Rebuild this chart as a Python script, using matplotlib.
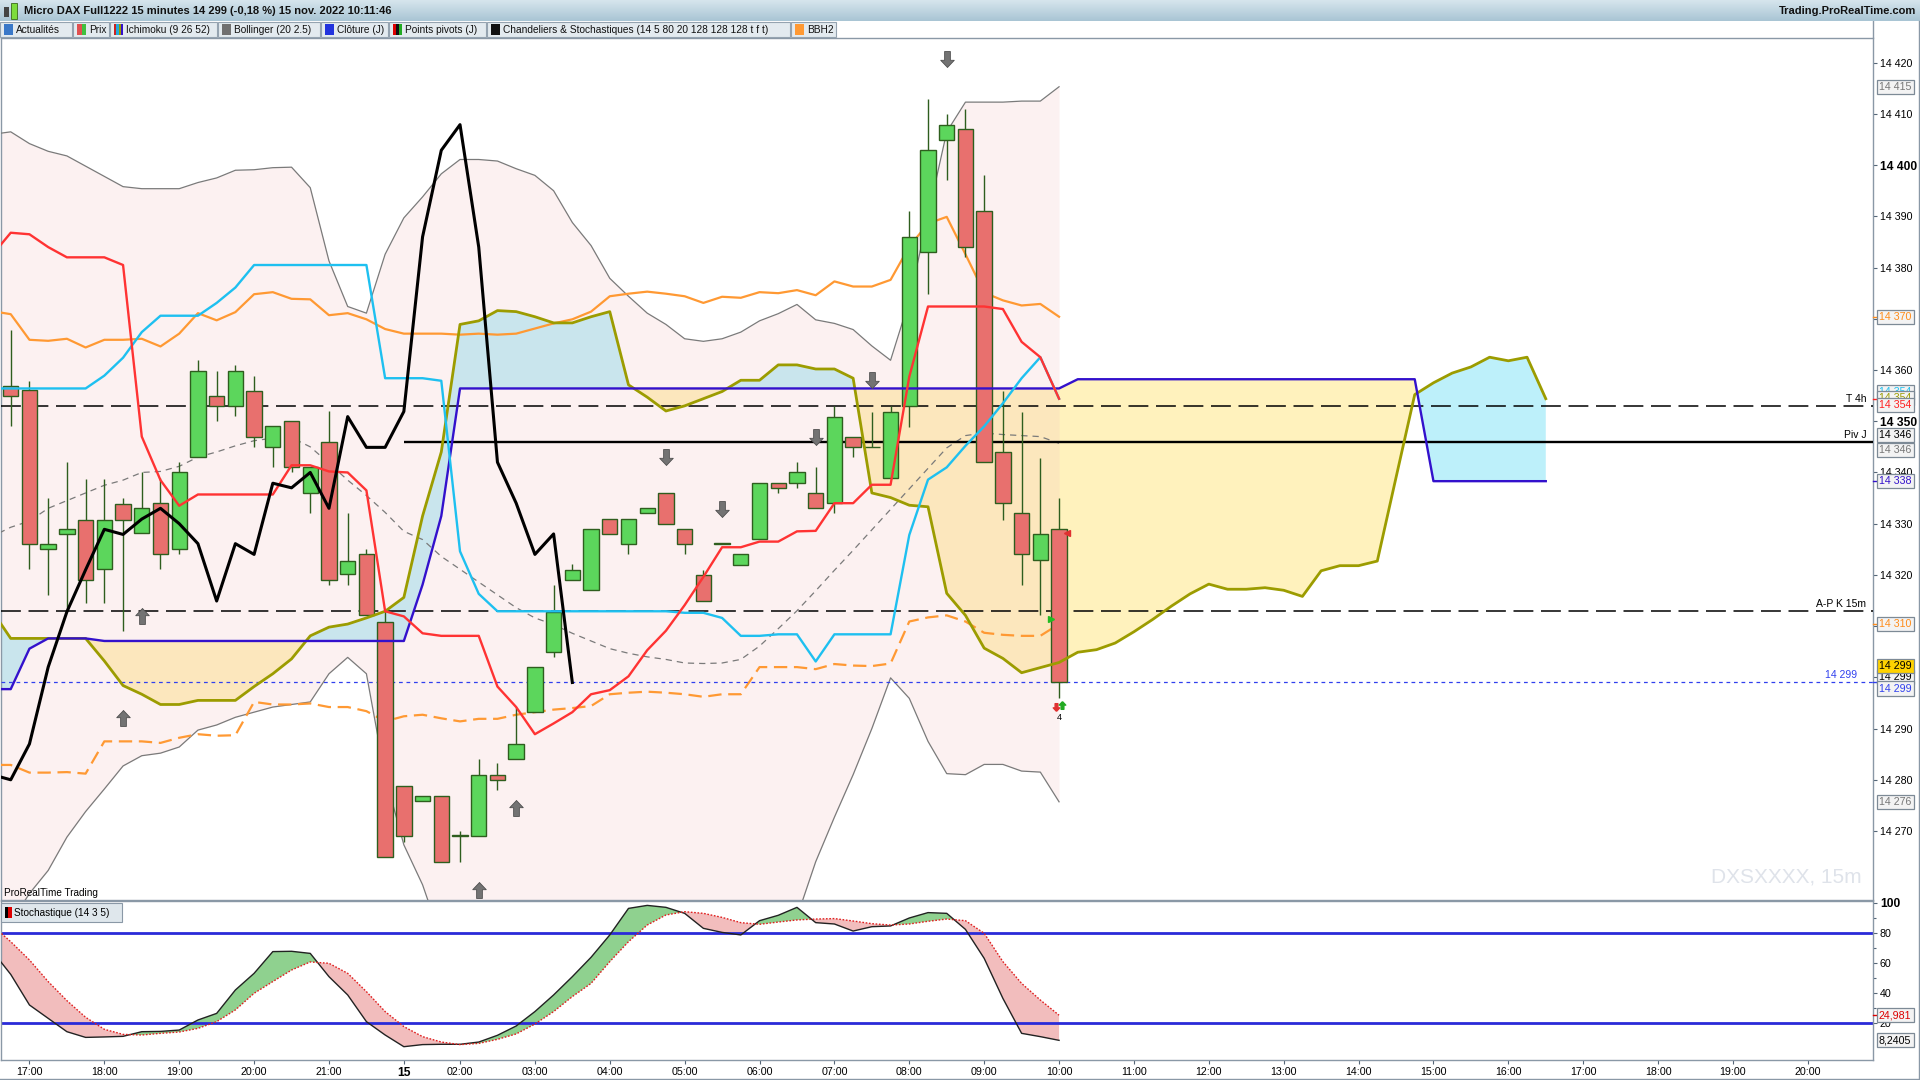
import numpy as np
import matplotlib
matplotlib.use("Agg")
import matplotlib.pyplot as plt
from matplotlib.patches import Rectangle
import matplotlib.transforms as mtransforms
from matplotlib.colors import LinearSegmentedColormap

plt.rcParams['font.family'] = ['Liberation Sans', 'DejaVu Sans']

W, H = 1920, 1080

# ---------------- data ----------------
# bar index: 0 = 14 nov 17:00, 20 = first bar of 15 nov, 55 = 15 nov 10:00
candle_idx = list(range(-1, 56))
opens = [14356.9, 14356.1, 14325.1, 14327.9, 14330.8, 14321.1, 14333.9, 14328.1, 14334.0, 14325.1,
         14343.0, 14354.9, 14352.9, 14356.0, 14345.0, 14350.0, 14336.0, 14346.0, 14320.1, 14324.1,
         14310.9, 14278.7, 14275.9, 14276.9, 14269.0, 14269.0, 14281.0, 14284.0, 14293.2, 14305.0,
         14319.0, 14317.1, 14330.9, 14326.1, 14332.0, 14335.9, 14328.9, 14320.0, 14326.1, 14322.0,
         14327.1, 14337.9, 14338.0, 14336.0, 14334.0, 14346.9, 14344.9, 14339.0, 14352.9, 14383.0,
         14404.9, 14407.0, 14391.0, 14343.9, 14332.0, 14323.0, 14329.0]
highs = [14367.9, 14357.9, 14335.0, 14342.0, 14338.8, 14338.8, 14335.0, 14340.0, 14339.0, 14342.0,
         14361.9, 14359.9, 14360.9, 14358.9, 14349.0, 14350.0, 14341.0, 14352.0, 14332.0, 14325.1,
         14313.0, 14278.7, 14276.9, 14276.9, 14270.0, 14284.0, 14283.2, 14294.2, 14302.0, 14318.1,
         14322.1, 14328.9, 14330.9, 14330.9, 14333.0, 14335.9, 14328.9, 14321.0, 14326.1, 14324.0,
         14337.9, 14337.9, 14342.0, 14341.0, 14352.9, 14346.9, 14351.9, 14352.9, 14391.0, 14413.0,
         14410.0, 14411.0, 14398.0, 14355.9, 14351.9, 14342.9, 14335.0]
lows = [14349.0, 14321.1, 14316.1, 14313.1, 14314.6, 14314.6, 14309.1, 14328.1, 14321.1, 14324.1,
        14343.0, 14350.0, 14351.0, 14345.0, 14341.0, 14340.0, 14332.0, 14318.1, 14318.1, 14312.1,
        14265.0, 14267.8, 14275.9, 14264.0, 14264.0, 14269.0, 14278.0, 14284.0, 14293.2, 14304.0,
        14319.0, 14317.1, 14327.9, 14324.1, 14332.0, 14330.0, 14324.1, 14314.9, 14326.1, 14322.0,
        14327.1, 14336.0, 14337.0, 14333.0, 14332.0, 14343.0, 14344.9, 14339.0, 14348.9, 14374.9,
        14397.0, 14382.0, 14342.0, 14330.8, 14318.0, 14312.1, 14296.0]
closes = [14354.9, 14326.1, 14326.1, 14328.9, 14319.1, 14330.8, 14330.8, 14333.0, 14324.1, 14340.0,
          14359.9, 14352.9, 14359.9, 14347.0, 14349.0, 14341.0, 14341.0, 14319.1, 14322.8, 14312.1,
          14265.0, 14269.0, 14276.9, 14264.0, 14269.0, 14281.0, 14280.0, 14287.0, 14302.0, 14312.8,
          14321.0, 14328.9, 14327.9, 14330.9, 14333.0, 14330.0, 14326.1, 14314.9, 14326.1, 14324.0,
          14337.9, 14337.0, 14340.0, 14333.0, 14350.9, 14344.9, 14344.9, 14351.9, 14386.0, 14402.9,
          14407.9, 14384.0, 14342.0, 14334.0, 14324.0, 14328.0, 14299.0]

ind_idx = list(range(-2, 56))
tenkan = [14382.4, 14386.8, 14386.5, 14384.0, 14382.0, 14382.0, 14382.0, 14380.5, 14347.0, 14338.5,
          14333.5, 14335.7, 14335.7, 14335.7, 14335.7, 14335.7, 14341.4, 14341.4, 14340.2, 14340.0,
          14336.5, 14312.9, 14311.9, 14308.6, 14308.1, 14308.1, 14308.1, 14298.2, 14294.2, 14288.9,
          14291.0, 14293.2, 14296.7, 14297.5, 14300.2, 14305.3, 14309.1, 14314.1, 14319.6, 14325.4,
          14325.4, 14326.5, 14326.5, 14328.5, 14328.6, 14334.0, 14334.0, 14337.6, 14337.6, 14358.7,
          14372.4, 14372.4, 14372.4, 14372.4, 14371.9, 14365.5, 14362.5, 14354.4]
kijun = [14356.4, 14356.4, 14356.4, 14356.4, 14356.4, 14356.4, 14358.9, 14362.4, 14367.4, 14370.6,
         14370.6, 14370.6, 14373.1, 14376.1, 14380.5, 14380.5, 14380.5, 14380.5, 14380.5, 14380.5,
         14380.5, 14358.4, 14358.4, 14358.4, 14357.9, 14324.6, 14316.3, 14312.9, 14312.9, 14312.9,
         14312.9, 14312.9, 14312.9, 14312.9, 14312.9, 14312.9, 14312.9, 14312.6, 14312.6, 14311.6,
         14308.1, 14308.1, 14308.4, 14308.4, 14303.1, 14308.4, 14308.4, 14308.4, 14308.4, 14327.8,
         14338.6, 14341.0, 14345.2, 14349.0, 14353.5, 14358.4, 14362.5, 14354.4]
boll_up = [14406.0, 14406.5, 14404.2, 14402.7, 14401.8, 14399.8, 14397.8, 14395.8, 14395.4, 14395.4,
           14395.4, 14396.6, 14397.5, 14399.0, 14399.1, 14399.5, 14399.6, 14395.6, 14381.3, 14372.4,
           14371.1, 14382.6, 14389.7, 14393.8, 14398.3, 14401.1, 14401.1, 14400.8, 14399.3, 14398.0,
           14395.0, 14388.8, 14384.3, 14377.9, 14374.4, 14371.1, 14368.9, 14366.1, 14365.6, 14366.1,
           14367.4, 14369.6, 14371.0, 14372.8, 14369.8, 14369.1, 14367.9, 14364.7, 14361.9, 14373.6,
           14390.1, 14406.5, 14412.3, 14412.3, 14412.3, 14412.5, 14412.5, 14415.3]
boll_mid = [14327.5, 14329.3, 14330.5, 14333.0, 14334.5, 14336.0, 14337.5, 14338.5, 14340.0, 14340.2,
            14341.2, 14343.0, 14344.0, 14345.2, 14346.2, 14346.7, 14346.8, 14345.0, 14341.8, 14338.5,
            14335.5, 14332.2, 14328.5, 14326.9, 14323.6, 14321.1, 14318.6, 14316.1, 14313.6, 14311.6,
            14310.3, 14308.6, 14307.1, 14305.6, 14304.7, 14304.0, 14303.5, 14302.8, 14302.7, 14302.8,
            14303.5, 14306.1, 14309.5, 14313.0, 14316.9, 14320.9, 14324.8, 14328.8, 14332.8, 14336.8,
            14340.8, 14344.8, 14347.2, 14347.7, 14347.4, 14347.2, 14347.0, 14345.7]
boll_low = [14249.0, 14252.1, 14257.8, 14262.3, 14268.8, 14273.8, 14278.2, 14282.7, 14284.7, 14285.2,
            14286.4, 14289.7, 14290.7, 14292.2, 14293.2, 14294.2, 14294.7, 14295.2, 14300.7, 14303.9,
            14300.7, 14280.7, 14267.3, 14259.5, 14248.9, 14241.1, 14236.1, 14231.4, 14227.9, 14225.2,
            14225.6, 14228.4, 14229.9, 14233.3, 14235.0, 14236.9, 14238.1, 14239.5, 14239.8, 14239.5,
            14239.6, 14242.6, 14248.0, 14253.2, 14264.0, 14272.7, 14281.0, 14290.0, 14299.9, 14295.9,
            14287.5, 14281.2, 14281.0, 14283.0, 14283.0, 14281.7, 14281.5, 14275.7]
env_up = [14371.5, 14370.9, 14365.9, 14365.7, 14366.1, 14364.4, 14365.9, 14365.9, 14366.1, 14364.6,
          14367.1, 14371.1, 14369.7, 14371.3, 14374.8, 14375.2, 14373.9, 14373.8, 14370.7, 14371.1,
          14369.9, 14368.0, 14367.1, 14367.1, 14367.1, 14366.9, 14367.1, 14366.9, 14367.1, 14368.1,
          14369.1, 14369.9, 14371.4, 14374.4, 14374.9, 14375.3, 14374.9, 14374.4, 14373.1, 14374.3,
          14374.1, 14375.2, 14375.0, 14375.6, 14374.6, 14377.3, 14376.3, 14376.3, 14377.6, 14384.1,
          14388.6, 14389.9, 14382.6, 14375.1, 14373.6, 14372.6, 14372.9, 14370.4]
env_low = [14282.9, 14282.9, 14281.4, 14281.4, 14281.5, 14281.2, 14287.5, 14287.5, 14287.5, 14287.2,
           14288.2, 14288.9, 14288.6, 14288.7, 14295.2, 14294.7, 14294.7, 14294.9, 14294.2, 14294.2,
           14293.4, 14291.4, 14292.4, 14292.7, 14292.0, 14291.4, 14291.9, 14291.9, 14292.7, 14293.2,
           14293.7, 14294.0, 14294.4, 14296.7, 14297.0, 14297.2, 14297.0, 14296.7, 14296.2, 14296.7,
           14296.7, 14302.0, 14302.0, 14302.0, 14301.6, 14302.6, 14302.3, 14302.2, 14302.7, 14310.9,
           14311.7, 14312.1, 14310.9, 14308.7, 14308.3, 14308.1, 14308.1, 14310.4]

cloud_idx = list(range(-2, 82))
senkou_a = [14313.0, 14307.6, 14307.6, 14307.6, 14307.6, 14307.6, 14303.2, 14298.4, 14296.7, 14294.7,
            14294.7, 14295.5, 14295.5, 14295.5, 14298.2, 14300.7, 14303.6, 14308.1, 14309.8, 14310.4,
            14311.6, 14312.9, 14315.6, 14331.5, 14344.0, 14368.9, 14369.6, 14371.6, 14371.4, 14370.4,
            14369.2, 14369.2, 14370.4, 14371.4, 14357.1, 14354.7, 14352.0, 14353.0, 14354.4, 14355.8,
            14358.0, 14358.0, 14361.0, 14361.0, 14360.2, 14360.2, 14358.4, 14336.0, 14335.1, 14333.6,
            14333.3, 14316.4, 14312.1, 14305.7, 14303.7, 14300.9, 14301.9, 14302.9, 14304.9, 14305.4,
            14306.7, 14308.9, 14311.3, 14313.9, 14316.3, 14318.2, 14317.2, 14317.2, 14317.5, 14317.0,
            14315.8, 14320.8, 14321.8, 14321.8, 14322.7, 14339.0, 14355.2, 14357.5, 14359.4, 14360.6,
            14362.5, 14361.8, 14362.5, 14354.4]
senkou_b = ([14297.7, 14297.7, 14305.6, 14307.6, 14307.6, 14307.6] + [14307.1] * 17 +
            [14318.1, 14331.5] + [14356.4] * 33 + [14358.2] * 19 + [14338.3] * 7)
chikou_shift = 26

stoch_k = [68.0, 52.2, 31.8, 22.9, 14.0, 10.2, 10.5, 10.9, 14.0, 14.2, 15.1, 21.8, 26.2, 41.8, 52.9,
           67.4, 67.6, 66.2, 50.7, 38.5, 20.7, 11.8, 4.0, 5.4, 5.6, 5.6, 7.1, 11.6, 17.8, 27.4, 38.5,
           50.7, 63.6, 78.5, 96.2, 98.2, 96.9, 92.9, 82.9, 80.2, 78.5, 88.0, 91.6, 96.9, 86.7, 85.8,
           81.1, 84.0, 84.5, 89.8, 93.4, 92.9, 82.2, 62.9, 36.2, 12.9, 10.7, 8.2405]
stoch_d = [85.0, 74.0, 61.8, 47.4, 34.7, 23.6, 15.6, 12.2, 11.8, 12.9, 13.8, 16.2, 20.7, 28.5, 39.6,
           47.4, 55.1, 60.5, 59.6, 52.9, 40.7, 27.4, 17.4, 10.7, 7.1, 5.4, 6.2, 8.9, 12.5, 19.1, 27.4,
           37.4, 46.2, 60.7, 74.0, 85.1, 91.8, 94.0, 92.9, 90.2, 86.7, 85.6, 87.1, 88.5, 89.1, 89.4,
           87.8, 86.0, 85.1, 85.8, 87.6, 89.1, 88.0, 79.6, 60.7, 46.2, 35.1, 24.981]

t4h_level = 14353.0
pivj_level = 14346.0
apk_level = 14313.0
last_price = 14299.0

sig_up_idx = [5, 6, 24, 26]
sig_up_price = [14292.1, 14312.0, 14258.4, 14274.4]
sig_dn_idx = [34, 37, 42, 45, 49]
sig_dn_price = [14343.1, 14332.8, 14346.9, 14358.1, 14420.8]

time_idx = [0, 4, 8, 12, 16, 20, 23, 27, 31, 35, 39, 43, 47, 51, 55, 59, 63, 67, 71, 75, 79, 83, 87, 91, 95]
time_labels = ['17:00', '18:00', '19:00', '20:00', '21:00', '15', '02:00', '03:00', '04:00', '05:00',
               '06:00', '07:00', '08:00', '09:00', '10:00', '11:00', '12:00', '13:00', '14:00', '15:00',
               '16:00', '17:00', '18:00', '19:00', '20:00']
price_ticks = list(range(14270, 14430, 10))
stoch_ticks = [20, 40, 60, 80, 100]

title = "Micro DAX Full1222 15 minutes 14 299 (-0,18 %) 15 nov. 2022 10:11:46"
legend_items = ["Actualités", "Prix", "Ichimoku (9 26 52)", "Bollinger (20 2.5)", "Clôture (J)",
                "Points pivots (J)", "Chandeliers & Stochastiques (14 5 80 20 128 128 128 t f t)", "BBH2"]

# ---------------- layout helpers ----------------
def fx(px):
    return px / W

def fy(py):
    return 1 - py / H

def fmt_price(v):
    v = int(round(v))
    return f"{v // 1000} {v % 1000:03d}"

EDGE = '#8a98a6'
XMIN, XMAX = -1.52, 98.48

fig = plt.figure(figsize=(19.2, 10.8), dpi=100)
fig.patch.set_facecolor('white')

ax = fig.add_axes([fx(1), fy(900), fx(1872), 862 / H])
sx = fig.add_axes([fx(1), fy(1060), fx(1872), 159 / H])

for a in (ax, sx):
    a.set_xlim(XMIN, XMAX)
    a.set_facecolor('white')
    for s in a.spines.values():
        s.set_color(EDGE)
        s.set_linewidth(1.0)
ax.set_ylim(14256.53, 14424.82)
sx.set_ylim(-4.87, 101.13)

# ---------------- main price panel ----------------
xi = np.array(ind_idx, dtype=float)
xc = np.array(cloud_idx, dtype=float)
A = np.array(senkou_a)
B = np.array(senkou_b)
ax.fill_between(xc, A, B, where=A >= B, interpolate=True, color='#bdf0fa', lw=0, zorder=1)
ax.fill_between(xc, A, B, where=A < B, interpolate=True, color='#fff2bd', lw=0, zorder=1)

ax.fill_between(xi, boll_up, boll_low, color='#f5c0c0', alpha=0.22, lw=0, zorder=2)
ax.plot(xi, boll_up, color='#7a7a7a', lw=0.9, zorder=3)
ax.plot(xi, boll_low, color='#7a7a7a', lw=0.9, zorder=3)
ax.plot(xi, boll_mid, color='#7a7a7a', lw=0.9, dashes=(5, 4), zorder=3)
ax.plot(xi, env_up, color='#ff9933', lw=1.6, zorder=3)
ax.plot(xi, env_low, color='#ff9933', lw=1.6, dashes=(6, 3), zorder=3)

ax.axhline(t4h_level, color='black', lw=1.1, dashes=(13, 5), zorder=4)
ax.axhline(apk_level, color='black', lw=1.1, dashes=(13, 5), zorder=4)
ax.axhline(last_price, color='#3040ee', lw=0.9, dashes=(3, 3), zorder=4)
ax.hlines(pivj_level, 20, XMAX, color='black', lw=1.7, zorder=4)

# candles
cx = np.array(candle_idx, dtype=float)
o = np.array(opens)
c = np.array(closes)
ax.vlines(cx, lows, highs, color='#2e5e1e', lw=1.0, zorder=5)
body = c - o
body = np.where(np.abs(body) < 0.15, 0.15, body)
cols = ['#5cd65c' if cc >= oo else '#e8706e' for oo, cc in zip(o, c)]
ax.bar(cx, body, bottom=o, width=0.82, color=cols, edgecolor='#2e5e1e', linewidth=1.0, zorder=5)

# ichimoku lines
ax.plot(xc, A, color='#9c9c00', lw=2.0, zorder=6)
ax.plot(xc, B, color='#3311cc', lw=1.7, zorder=6)
ax.plot(xi, kijun, color='#1ec0f0', lw=1.7, zorder=6)
ax.plot(xi, tenkan, color='#ff3333', lw=1.7, zorder=6)
ch_x = [i - chikou_shift for i in candle_idx if i - chikou_shift >= -2]
ch_y = [cl for i, cl in zip(candle_idx, closes) if i - chikou_shift >= -2]
ax.plot(ch_x, ch_y, color='black', lw=2.2, zorder=7)

# signal arrows
up_arrow = [(0, 1), (0.85, 0.1), (0.36, 0.1), (0.36, -1), (-0.36, -1), (-0.36, 0.1), (-0.85, 0.1), (0, 1)]
dn_arrow = [(x, -y) for x, y in up_arrow]
ax.plot(sig_up_idx, sig_up_price, ls='none', marker=up_arrow, ms=11.5, mfc='#737373', mec='#505050',
        mew=0.6, zorder=8)
ax.plot(sig_dn_idx, sig_dn_price, ls='none', marker=dn_arrow, ms=11.5, mfc='#737373', mec='#505050',
        mew=0.6, zorder=8)

last_i = candle_idx[-1]
ax.plot([last_i - 0.18], [14294.3], ls='none', marker=dn_arrow, ms=5.5, mfc='#e03030', mec='#e03030', zorder=8)
ax.plot([last_i + 0.18], [14294.6], ls='none', marker=up_arrow, ms=5.5, mfc='#22aa22', mec='#22aa22', zorder=8)
ax.text(last_i, 14292.2, '4', fontsize=6.5, ha='center', va='center', zorder=8)
ax.plot([last_i + 0.45], [opens[-1] - 0.8], ls='none', marker='<', ms=4, color='#e03030', zorder=8)
ax.plot([last_i - 0.45], [14311.3], ls='none', marker='>', ms=4, color='#22bb22', zorder=8)

ax.set_xticks([])
ax.yaxis.tick_right()
ax.set_yticks(price_ticks, [fmt_price(v) for v in price_ticks])
ax.tick_params(axis='y', direction='out', length=3, width=0.8, color='#556677', pad=2,
               labelsize=7.7, labelcolor='black')
for lbl in ax.get_yticklabels():
    if lbl.get_text() in ('14 400', '14 350'):
        lbl.set_fontweight('bold')
        lbl.set_fontsize(8.7)

bt = mtransforms.blended_transform_factory(ax.transAxes, ax.transData)

# line captions on the right
ax.text(0.9965, t4h_level + 0.4, 'T 4h', transform=bt, ha='right', va='bottom', fontsize=7.5, zorder=9)
ax.text(0.9965, pivj_level + 0.4, 'Piv J', transform=bt, ha='right', va='bottom', fontsize=7.5, zorder=9)
ax.text(0.9965, apk_level + 0.4, 'A-P K 15m', transform=bt, ha='right', va='bottom', fontsize=7.5, zorder=9)
ax.text(0.9915, last_price + 0.4, fmt_price(last_price), transform=bt, ha='right', va='bottom',
        fontsize=7.5, color='#3040ee', zorder=9)

# value boxes on the price scale: (value, offset for stacking, text colour, face colour)
boxes = [
    (boll_up[-1], 0.0, '#777777', '#f3f3f3'),
    (env_up[-1], 0.0, '#ff8c1a', '#f3f3f3'),
    (kijun[-1], 1.3, '#1ec0f0', '#f3f3f3'),
    (senkou_a[-1], 0.1, '#9c9c00', '#f3f3f3'),
    (tenkan[-1], -1.3, '#ff2020', '#f3f3f3'),
    (pivj_level, 1.3, 'black', '#f3f3f3'),
    (boll_mid[-1], -1.3, '#777777', '#f3f3f3'),
    (senkou_b[-1], 0.0, '#3311cc', '#f3f3f3'),
    (env_low[-1], 0.0, '#ff8c1a', '#f3f3f3'),
    (ch_y[-1], 1.0, 'black', '#f3f3f3'),
    (closes[-1], 3.2, 'black', '#ffd200'),
    (last_price, -1.2, '#3040ee', '#f3f3f3'),
    (boll_low[-1], 0.0, '#777777', '#f3f3f3'),
]
tick_cols = {'#ff8c1a', '#ff2020', '#3311cc', '#3040ee'}
for k, (val, off, tc, fc) in enumerate(boxes):
    ax.text(1.0032, val + off, fmt_price(val), transform=bt, ha='left', va='center', fontsize=7.7,
            color=tc, zorder=20 + k, clip_on=False,
            bbox=dict(boxstyle='square,pad=0.2', fc=fc, ec='#7d8a96', lw=0.9))
    if tc in tick_cols:
        ax.plot([1.0, 1.0028], [val, val], transform=bt, color=tc, lw=1.0, clip_on=False, zorder=19)

ax.text(0.994, 14261.0, 'DXSXXXX, 15m', transform=bt, ha='right', va='center', fontsize=15,
        color='#dfe3ea', zorder=9)
ax.text(0.0015, 0.002, 'ProRealTime Trading', transform=ax.transAxes, ha='left', va='bottom',
        fontsize=7.2, zorder=9)

# ---------------- stochastic panel ----------------
K = np.array(stoch_k)
D = np.array(stoch_d)
sx.fill_between(xi, K, D, where=K >= D, interpolate=True, color='#8fd18f', lw=0, zorder=1)
sx.fill_between(xi, K, D, where=K < D, interpolate=True, color='#f2bdbd', lw=0, zorder=1)
sx.axhline(80, color='#2a2ad8', lw=2.0, zorder=2)
sx.axhline(20, color='#2a2ad8', lw=2.0, zorder=2)
sx.plot(xi, K, color='#222222', lw=1.0, zorder=3)
sx.plot(xi, D, color='#e02020', lw=1.0, dashes=(1.2, 1.2), zorder=3)

sx.yaxis.tick_right()
sx.set_yticks(stoch_ticks, [str(v) for v in stoch_ticks])
sx.set_yticks([30, 50, 70, 90], minor=True)
sx.tick_params(axis='y', which='major', direction='out', length=3, width=0.8, color='#556677',
               pad=2, labelsize=7.7)
sx.tick_params(axis='y', which='minor', direction='out', length=2, width=0.8, color='#556677')
for lbl in sx.get_yticklabels():
    if lbl.get_text() == '100':
        lbl.set_fontweight('bold')
        lbl.set_fontsize(8.7)
sbt = mtransforms.blended_transform_factory(sx.transAxes, sx.transData)
sx.text(1.0032, D[-1], f"{D[-1]:.3f}".replace('.', ','), transform=sbt, ha='left', va='center',
        fontsize=7.7, color='#dd0000', clip_on=False, zorder=20,
        bbox=dict(boxstyle='square,pad=0.2', fc='#f3f3f3', ec='#7d8a96', lw=0.9))
sx.plot([1.0, 1.0028], [D[-1], D[-1]], transform=sbt, color='#dd0000', lw=1.0, clip_on=False, zorder=19)
sx.text(1.0032, K[-1], f"{K[-1]:.4f}".replace('.', ','), transform=sbt, ha='left', va='center',
        fontsize=7.7, color='black', clip_on=False, zorder=21,
        bbox=dict(boxstyle='square,pad=0.2', fc='#f3f3f3', ec='#7d8a96', lw=0.9))

sx.set_xticks(time_idx, time_labels)
sx.tick_params(axis='x', direction='out', length=3, width=0.8, color='#556677', pad=2, labelsize=7.7)
for lbl in sx.get_xticklabels():
    if lbl.get_text() == '15':
        lbl.set_fontweight('bold')
        lbl.set_fontsize(8.7)

# stochastic legend
sx.add_patch(Rectangle((0.0, 0.87), 0.0645, 0.115, transform=sx.transAxes, fc='#dfe7ec', ec='#8a98a6',
                       lw=0.8, zorder=9, clip_on=False))
sx.add_patch(Rectangle((0.0022, 0.895), 0.0018, 0.07, transform=sx.transAxes, fc='black', lw=0, zorder=10))
sx.add_patch(Rectangle((0.0040, 0.895), 0.0018, 0.07, transform=sx.transAxes, fc='#dd0000', lw=0, zorder=10))
sx.text(0.0072, 0.927, 'Stochastique (14 3 5)', transform=sx.transAxes, ha='left', va='center',
        fontsize=7.2, zorder=10)

# ---------------- header ----------------
hdr = fig.add_axes([0, fy(21), 1, 21 / H])
grad = np.linspace(0, 1, 32).reshape(-1, 1)
hdr.imshow(grad, aspect='auto', extent=[0, 1, 0, 1],
           cmap=LinearSegmentedColormap.from_list('hdr', ['#a9c5d4', '#d6e5ed']), origin='lower')
hdr.set_xlim(0, 1)
hdr.set_ylim(0, 1)
hdr.axis('off')
hdr.add_patch(Rectangle((fx(4), 0.2), fx(5), 0.45, fc='#444444', lw=0))
hdr.add_patch(Rectangle((fx(11), 0.1), fx(6), 0.75, fc='#7ddc3c', ec='#3a6a1a', lw=0.6))
hdr.text(fx(24), 0.5, title, fontsize=8.0, fontweight='bold', va='center', ha='left', color='#111111')
hdr.text(fx(1916), 0.5, 'Trading.ProRealTime.com', fontsize=8.0, fontweight='bold', va='center',
         ha='right', color='#111111')

leg = fig.add_axes([0, fy(38), 1, 17 / H])
leg.set_xlim(0, W)
leg.set_ylim(0, 1)
leg.axis('off')
item_spans = [(0, 72), (73, 109), (110, 217), (218, 320), (321, 388), (389, 486), (487, 790), (791, 836)]
icon_cols = [['#3a78c8'], ['#e05050', '#40c040'], ['#cc2222', '#22aadd', '#999900', '#3311cc'],
             ['#707070'], ['#2233dd'], ['#dd0000', '#111111', '#22aa22'], ['#111111'], ['#ff9933']]
for (x0, x1), name, ic in zip(item_spans, legend_items, icon_cols):
    leg.add_patch(Rectangle((x0, 0.04), x1 - x0, 0.92, fc='#e3eaef', ec='#95a3b0', lw=0.8))
    n = len(ic)
    wdt = 9.0 / n
    for k, colr in enumerate(ic):
        leg.add_patch(Rectangle((x0 + 4 + k * wdt, 0.2), wdt, 0.6, fc=colr, lw=0))
    leg.text(x0 + 16, 0.48, name, fontsize=7.3, va='center', ha='left', color='#111111')
leg.plot([1873, 1873], [0, 1], color=EDGE, lw=1.0)

# outer frame lines
fig.add_artist(plt.Line2D([fx(1918.5), fx(1918.5)], [0, fy(21)], color=EDGE, lw=1.0))
fig.add_artist(plt.Line2D([0, 1], [fy(1079), fy(1079)], color=EDGE, lw=1.0))

fig.savefig('out.png', dpi=100, facecolor='white')
